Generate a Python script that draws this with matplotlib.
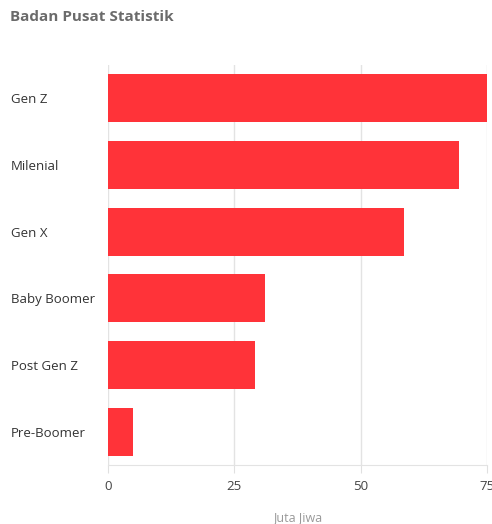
import numpy as np
import matplotlib.pyplot as plt

plt.rcParams['font.family'] = ['Open Sans', 'DejaVu Sans']

# data
categories = ["Gen Z", "Milenial", "Gen X", "Baby Boomer", "Post Gen Z", "Pre-Boomer"]
values = [74.93, 69.38, 58.65, 31.01, 29.17, 5.03]
xticks = [0, 25, 50, 75]

fig = plt.figure(figsize=(4.92, 5.24), dpi=100)
ax = fig.add_axes([108 / 492, 59 / 524, 379 / 492, 400 / 524])

y = np.arange(len(categories))
ax.barh(y, values, height=0.72, color='#ff3339', zorder=3)

ax.set_ylim(len(categories) - 0.5, -0.5)
ax.set_xlim(0, 75)
ax.set_yticks(y)
ax.set_yticklabels(categories, fontsize=9.5, color='#333333', ha='left')
ax.tick_params(axis='y', length=0, pad=70)
ax.set_xticks(xticks)
ax.set_xticklabels([str(t) for t in xticks], fontsize=9.5, color='#444444')
ax.tick_params(axis='x', length=6, color='#e0e0e0', pad=5)

ax.grid(axis='x', color='#e3e3e3', linewidth=1, zorder=0)
for s in ['top', 'right', 'left']:
    ax.spines[s].set_visible(False)
ax.spines['bottom'].set_color('#e3e3e3')

ax.set_xlabel("Juta Jiwa", fontsize=9, color='#999999', labelpad=13)

fig.text(10 / 492, 1 - 17 / 524, "Badan Pusat Statistik", fontsize=11, fontweight='bold',
         color='#6b6b6b', va='center', ha='left')

plt.savefig('out.png', dpi=100)
